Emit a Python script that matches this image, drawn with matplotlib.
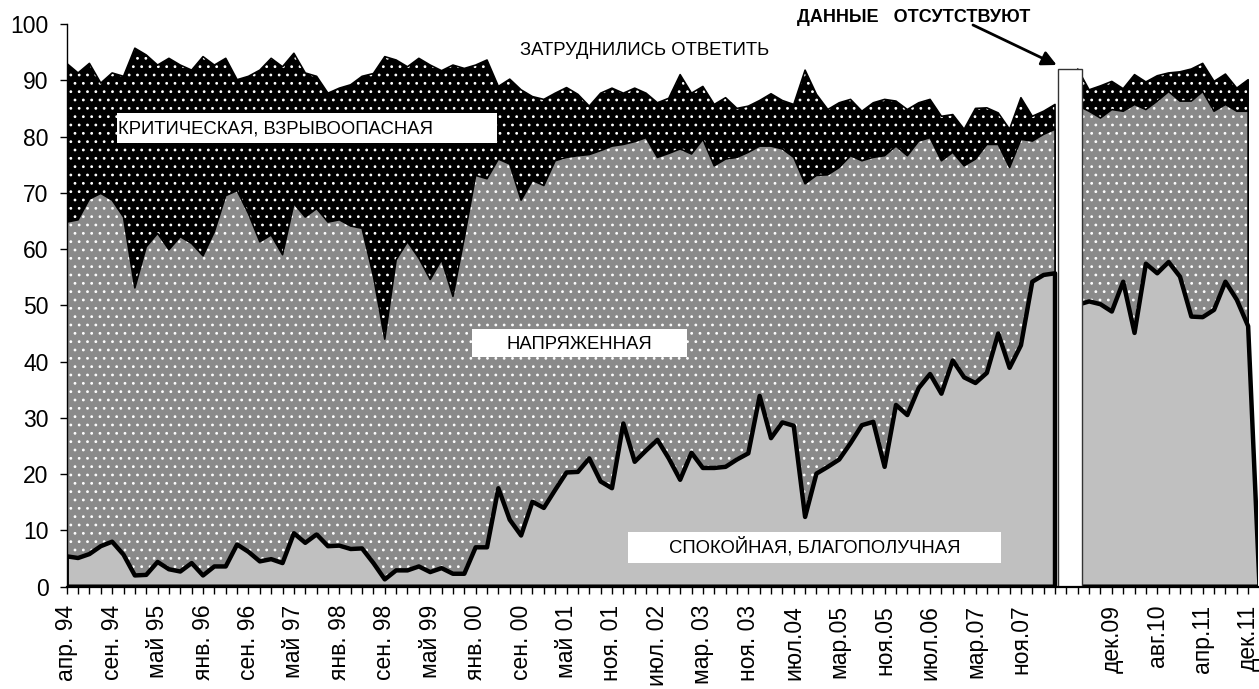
import numpy as np
import matplotlib
matplotlib.use('Agg')
import matplotlib.pyplot as plt
from matplotlib.patches import Rectangle

plt.rcParams['font.family'] = ['Liberation Sans', 'DejaVu Sans']
plt.rcParams['hatch.linewidth'] = 0.8

W, H = 1259, 689

# shares of answers, % (None = no survey in that wave)
calm = [5.4, 5.1, 5.8, 7.2, 8.0, 5.7, 2.0, 2.1, 4.4, 3.1,
        2.7, 4.2, 2.0, 3.6, 3.6, 7.5, 6.2, 4.5, 4.9, 4.2,
        9.5, 7.8, 9.3, 7.2, 7.3, 6.7, 6.8, 4.2, 1.3, 2.9,
        2.9, 3.6, 2.6, 3.3, 2.3, 2.3, 7.0, 7.0, 17.5, 11.9,
        9.1, 15.1, 14.0, 17.2, 20.3, 20.4, 22.8, 18.7, 17.5, 29.0,
        22.2, 24.2, 26.1, 22.8, 19.0, 23.8, 21.1, 21.1, 21.3, 22.6,
        23.7, 33.9, 26.4, 29.2, 28.6, 12.4, 20.1, 21.3, 22.6, 25.5,
        28.7, 29.3, 21.3, 32.3, 30.5, 35.3, 37.8, 34.3, 40.2, 37.2,
        36.2, 38.0, 45.0, 38.9, 42.9, 54.2, 55.4, 55.7, None, 50.1,
        50.7, 50.2, 48.9, 54.2, 45.1, 57.4, 55.7, 57.7, 55.1, 48.0,
        47.9, 49.2, 54.2, 51.0, 46.3, 0]

tense = [59.4, 60.1, 63.1, 62.7, 60.7, 60.0, 51.1, 58.3, 58.4, 56.8,
         59.5, 56.8, 56.8, 59.5, 65.9, 62.9, 60.1, 56.8, 57.6, 54.8,
         58.6, 57.9, 57.9, 57.6, 57.9, 57.4, 56.9, 51.0, 42.7, 55.2,
         58.4, 54.8, 52.0, 54.8, 49.3, 59.7, 66.1, 65.5, 58.5, 63.2,
         59.6, 57.1, 57.3, 58.5, 56.0, 56.2, 54.0, 58.8, 60.8, 49.6,
         56.9, 55.6, 50.2, 54.2, 58.8, 53.1, 58.4, 53.7, 54.7, 53.7,
         53.5, 44.4, 51.9, 48.6, 47.7, 59.2, 53.0, 51.9, 51.9, 51.1,
         47.0, 47.0, 55.3, 46.0, 46.1, 43.9, 42.0, 41.4, 37.0, 37.6,
         39.8, 40.6, 33.6, 35.6, 36.6, 25.0, 25.0, 25.6, None, 35.4,
         33.8, 33.1, 35.9, 30.3, 40.6, 27.4, 30.6, 30.3, 31.2, 38.3,
         40.1, 35.3, 31.5, 33.5, 38.2, None]

critical = [28.2, 26.1, 24.1, 19.6, 22.6, 25.0, 42.6, 34.1, 29.9, 34.0,
            30.5, 30.8, 35.4, 29.6, 24.4, 19.7, 24.4, 30.5, 31.4, 33.4,
            26.7, 25.6, 23.5, 22.9, 23.4, 25.1, 27.0, 36.0, 50.2, 35.5,
            31.1, 35.5, 38.1, 33.6, 41.1, 30.1, 19.6, 21.1, 12.9, 15.1,
            19.6, 14.9, 15.3, 12.0, 12.4, 10.9, 8.6, 10.2, 10.3, 9.1,
            9.5, 7.9, 9.7, 9.8, 13.2, 10.8, 9.4, 10.9, 10.9, 8.7,
            8.2, 8.1, 9.3, 8.6, 9.4, 20.2, 14.4, 11.6, 11.5, 10.0,
            8.8, 9.7, 10.0, 8.0, 8.2, 6.8, 6.8, 7.9, 6.7, 6.5,
            9.0, 6.5, 5.6, 6.8, 7.4, 4.4, 4.1, 4.4, None, 6.5,
            3.8, 5.7, 5.0, 4.0, 5.3, 4.9, 4.5, 3.3, 5.2, 5.7,
            5.0, 5.3, 5.4, 4.1, 5.6, None]

tick_labels = ['апр. 94', 'сен. 94', 'май 95', 'янв. 96', 'сен. 96', 'май 97',
               'янв. 98', 'сен. 98', 'май 99', 'янв. 00', 'сен. 00', 'май 01',
               'ноя. 01', 'июл. 02', 'мар. 03', 'ноя. 03', 'июл.04', 'мар.05',
               'ноя.05', 'июл.06', 'мар.07', 'ноя.07', '', 'дек.09', 'авг.10',
               'апр.11', 'дек.11']
label_step = 4
n_waves = 105
missing_level = 92


def fx(px):
    return px / W


def fy(py):
    return 1 - py / H


c = np.array(calm, dtype=float)
t = np.array(tense, dtype=float)
k = np.array(critical, dtype=float)
x = np.arange(len(c))
top_tense = c + t
top_all = top_tense + k

fig = plt.figure(figsize=(W / 100, H / 100), dpi=100)
fig.patch.set_facecolor('white')
ax = fig.add_axes([fx(66.7), fy(586.7), fx(1258) - fx(66.7), fy(24) - fy(586.7)])

# critical (black, white dots)
ax.fill_between(x, 0, top_all, facecolor='black', edgecolor='white', hatch='..', linewidth=0, zorder=1)
ax.fill_between(x, 0, top_all, facecolor='none', edgecolor='black', linewidth=1.2, zorder=1.1)
# tense (grey, white dots)
ax.fill_between(x, 0, top_tense, facecolor='#8a8a8a', edgecolor='white', hatch='..', linewidth=0, zorder=2)
ax.fill_between(x, 0, top_tense, facecolor='none', edgecolor='black', linewidth=1.2, zorder=2.1)
# calm (light grey, thick border)
ax.fill_between(x, 0, c, facecolor='#c0c0c0', linewidth=0, zorder=3)
outline = ax.fill_between(x, 0, c, facecolor='none', edgecolor='black', linewidth=3.2, zorder=3.1)
outline.set_joinstyle('round')

# no data column
gap = int(np.where(np.isnan(c))[0][0])
ax.bar(gap + 0.3, missing_level, width=2.1, facecolor='white', edgecolor='#333333', linewidth=1.0, zorder=5)

ax.set_xlim(0, (1258 - 66.7) / 11.36)
ax.set_ylim(0, 100)
ax.set_yticks(range(0, 101, 10))
ax.set_xticks(range(0, n_waves, label_step))
ax.set_xticklabels(tick_labels, rotation=90)
ax.set_xticks(range(n_waves), minor=True)
ax.tick_params(axis='y', direction='out', length=5, width=1, labelsize=16.5, pad=8)
ax.tick_params(axis='x', which='both', direction='out', length=5, width=1, labelsize=16.5, pad=8)

for side in ['top', 'right']:
    ax.spines[side].set_visible(False)
ax.spines['left'].set_linewidth(1.0)
ax.spines['bottom'].set_linewidth(1.6)
for sp in ax.spines.values():
    sp.set_zorder(10)


def box(x0, y0, x1, y1):
    fig.add_artist(Rectangle((fx(x0), fy(y1)), fx(x1) - fx(x0), fy(y0) - fy(y1),
                             transform=fig.transFigure, facecolor='white',
                             edgecolor='none', zorder=5))


box(117, 113, 497, 143)
fig.text(fx(118), fy(133.3), 'КРИТИЧЕСКАЯ, ВЗРЫВООПАСНАЯ', ha='left', va='baseline', fontsize=13.3, zorder=6)
box(472, 329, 687, 357)
fig.text(fx(579), fy(349.3), 'НАПРЯЖЕННАЯ', ha='center', va='baseline', fontsize=13.3, zorder=6)
box(628, 532, 1001, 563)
fig.text(fx(814.5), fy(552.3), 'СПОКОЙНАЯ, БЛАГОПОЛУЧНАЯ', ha='center', va='baseline', fontsize=13.3, zorder=6)
fig.text(fx(520), fy(55), 'ЗАТРУДНИЛИСЬ ОТВЕТИТЬ', ha='left', va='baseline', fontsize=13.3, zorder=6)
fig.text(fx(797), fy(22.5), 'ДАННЫЕ   ОТСУТСТВУЮТ', ha='left', va='baseline', fontsize=13,
         fontweight='bold', zorder=6)

ax.annotate('', xy=(1056.7, H - 65), xycoords='figure pixels',
            xytext=(973, H - 25), textcoords='figure pixels',
            arrowprops=dict(arrowstyle='-|>', color='black', lw=2, mutation_scale=22,
                            shrinkA=0, shrinkB=0),
            annotation_clip=False, zorder=7)

fig.savefig('out.png', dpi=100, facecolor='white')
